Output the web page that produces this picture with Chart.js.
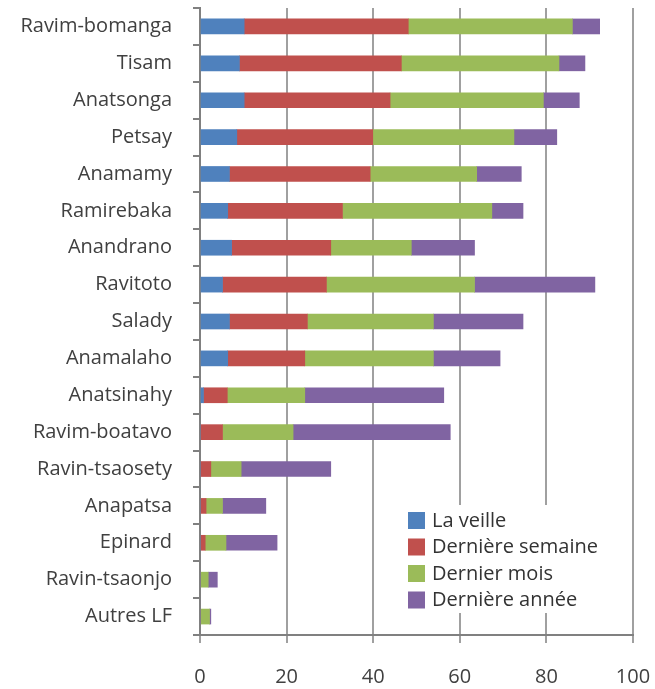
<!DOCTYPE html>
<html>
<head>
<meta charset="utf-8">
<script src="https://cdn.jsdelivr.net/npm/chart.js@4"></script>
<style>
  html, body { margin: 0; padding: 0; background: #fff; overflow: hidden; }
  #wrap { width: 655px; height: 689px; position: relative; }
</style>
</head>
<body>
<div id="wrap"><canvas id="myChart"></canvas></div>
<script>
const categories = [
  "Ravim-bomanga", "Tisam", "Anatsonga", "Petsay", "Anamamy", "Ramirebaka",
  "Anandrano", "Ravitoto", "Salady", "Anamalaho", "Anatsinahy", "Ravim-boatavo",
  "Ravin-tsaosety", "Anapatsa", "Epinard", "Ravin-tsaonjo", "Autres LF"
];
const seriesNames = ["La veille", "Dernière semaine", "Dernier mois", "Dernière année"];
const laVeille        = [10.2, 9.1, 10.2, 8.5, 6.8, 6.4, 7.3, 5.2, 6.8, 6.4, 0.8, 0, 0, 0, 0, 0, 0];
const derniereSemaine = [37.9, 37.4, 33.7, 31.4, 32.5, 26.5, 22.9, 24.0, 18.0, 17.8, 5.5, 5.2, 2.5, 1.4, 1.2, 0, 0];
const dernierMois     = [37.9, 36.4, 35.4, 32.6, 24.6, 34.5, 18.6, 34.2, 29.1, 29.7, 17.9, 16.3, 7.0, 3.8, 4.8, 1.9, 2.2];
const derniereAnnee   = [6.3, 6.0, 8.3, 9.9, 10.3, 7.2, 14.6, 27.8, 20.7, 15.4, 32.1, 36.3, 20.7, 10.0, 11.8, 2.1, 0.3];
const xTicks = [0, 20, 40, 60, 80, 100];

const colors = ["#4F81BD", "#C0504D", "#9BBB59", "#8064A2"];
const values = [laVeille, derniereSemaine, dernierMois, derniereAnnee];
const FONT = "'Open Sans', sans-serif";

// legend drawn inside the plot, bottom right
const insideLegend = {
  id: "insideLegend",
  afterDraw(chart) {
    const c = chart.ctx;
    c.save();
    c.fillStyle = "#fff";
    c.fillRect(403, 505, 207, 108);
    c.font = "20px " + FONT;
    c.textBaseline = "middle";
    chart.data.datasets.forEach((ds, i) => {
      const y = 520 + i * 26.5;
      c.fillStyle = ds.backgroundColor;
      c.fillRect(408, y - 8, 17, 17);
      c.fillStyle = "#333";
      c.fillText(ds.label, 432, y + 1);
    });
    c.restore();
  }
};

const ctx = document.getElementById("myChart").getContext("2d");
const chart = new Chart(ctx, {
  type: "bar",
  data: {
    labels: categories,
    datasets: seriesNames.map((name, i) => ({
      label: name,
      data: values[i],
      backgroundColor: colors[i],
      borderWidth: 0,
      barThickness: 15,
    })),
  },
  options: {
    indexAxis: "y",
    responsive: true,
    maintainAspectRatio: false,
    animation: false,
    layout: { padding: { top: 8, right: 22, left: 0, bottom: 0 } },
    scales: {
      x: {
        stacked: true,
        min: 0,
        max: 100,
        afterBuildTicks: (scale) => { scale.ticks = xTicks.map(v => ({ value: v })); },
        afterFit: (scale) => {
          scale.height = 54;
          scale.paddingLeft = 0;
          scale.paddingRight = 0;
        },
        grid: { color: "#a0a0a0", lineWidth: 2, tickLength: 8 },
        border: { color: "#808080", width: 2 },
        ticks: { color: "#404040", padding: 22, maxRotation: 0, font: { family: FONT, size: 20 } },
      },
      y: {
        stacked: true,
        afterFit: (scale) => {
          scale.width = 200;
          scale.paddingTop = 0;
          scale.paddingBottom = 0;
        },
        grid: { offset: true, drawOnChartArea: false, color: "#808080", lineWidth: 2, tickLength: 7 },
        border: { color: "#808080", width: 2 },
        ticks: { color: "#404040", padding: 21, autoSkip: false, font: { family: FONT, size: 20 } },
      },
    },
    plugins: {
      legend: { display: false },
      tooltip: { enabled: false },
    },
  },
  plugins: [insideLegend],
});
</script>
</body>
</html>
